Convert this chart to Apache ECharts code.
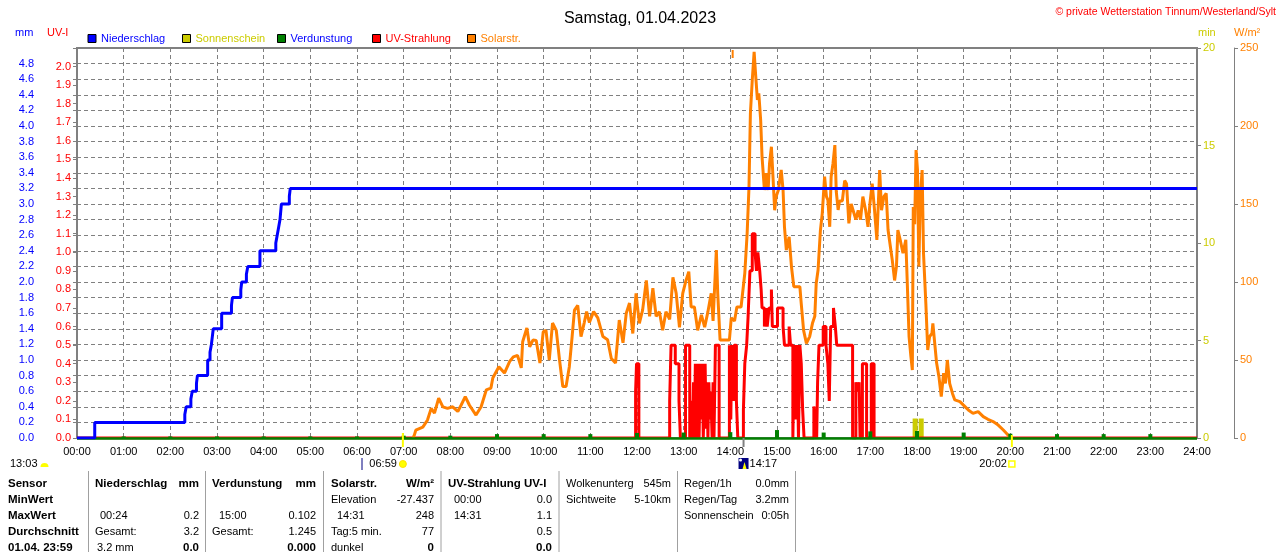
<!DOCTYPE html>
<html><head><meta charset="utf-8">
<script src="https://cdn.jsdelivr.net/npm/echarts/dist/echarts.min.js"></script>
<style>html,body{margin:0;padding:0;background:#fff;overflow:hidden}#c{width:1280px;height:552px}</style>
</head><body><div id="c"></div>
<script>
const FONT = '"Liberation Sans", Arial, sans-serif';

// ---- tick labels ----
const xTickLabels = ['00:00','01:00','02:00','03:00','04:00','05:00','06:00','07:00','08:00','09:00','10:00','11:00','12:00','13:00','14:00','15:00','16:00','17:00','18:00','19:00','20:00','21:00','22:00','23:00','24:00'];

// ---- Niederschlag (cumulative mm) ----
const rainTimes  = [0, 0.38, 2.31, 2.34, 2.44, 2.47, 2.56, 2.58, 2.80, 2.85, 2.88, 2.90, 2.92, 3.10, 3.31, 3.33, 3.51, 3.53, 3.63, 3.66, 3.92, 4.26, 4.29, 4.32, 4.35, 4.38, 4.55, 4.57, 24];
const rainValues = [0, 0.2, 0.3, 0.4, 0.5, 0.6, 0.7, 0.8, 1.0, 1.1, 1.2, 1.3, 1.4, 1.6, 1.7, 1.8, 1.9, 2.0, 2.1, 2.2, 2.4, 2.5, 2.6, 2.7, 2.8, 3.0, 3.1, 3.2, 3.2];

// ---- Sonnenschein (min) ----
const sunTimes  = [17.96, 18.09];
const sunValues = [1.0, 1.0];

// ---- Verdunstung (mm per hour) ----
const evapHours  = [0,1,2,3,4,5,6,7,8,9,10,11,12,13,14,15,16,17,18,19,20,21,22,23];
const evapValues = [0.0,0.02,0.02,0.02,0.02,0.02,0.02,0.03,0.03,0.05,0.05,0.05,0.065,0.07,0.075,0.102,0.07,0.085,0.09,0.07,0.055,0.05,0.05,0.05];

// ---- UV-Strahlung (UV-I), change points ----
const uvTimes = [0,11.97,11.99,12.04,12.70,12.73,12.82,12.90,12.93,
 13.04,13.13,13.15,13.17,13.19,13.21,13.23,13.25,13.28,13.30,13.31,13.33,13.36,13.38,13.40,13.42,13.44,13.46,13.48,13.50,13.52,13.54,13.56,13.58,13.61,13.63,13.65,13.68,13.76,
 13.98,14.01,14.03,14.07,14.08,14.13,14.16,
 14.28,14.31,14.35,14.38,14.42,14.47,14.53,14.56,14.59,14.63,14.66,14.68,14.73,14.77,14.79,14.83,14.88,14.90,15.01,15.13,15.16,15.26,15.29,15.34,15.37,15.40,15.43,15.46,15.49,15.52,15.55,15.58,
 15.79,15.82,15.85,15.87,15.90,15.99,16.05,16.09,16.12,16.15,16.21,16.25,16.28,16.62,16.69,16.73,16.76,16.78,16.83,16.92,17.02,17.08,24];
const uvValues = [0,0.25,0.4,0,0.2,0.5,0.4,0.2,0,
 0.5,0,0.1,0.2,0,0.3,0,0.4,0,0.2,0.4,0,0.4,0.1,0.4,0,0.2,0.4,0.05,0.3,0,0.3,0.1,0.25,0,0.3,0,0.5,0,
 0.5,0.1,0.5,0.2,0.5,0.2,0,
 0.15,0.4,0.5,0.65,0.9,1.1,1.0,0.9,1.0,0.9,0.8,0.7,0.6,0.7,0.6,0.7,0.8,0.6,0.7,0.6,0.5,0.6,0.5,0,0.5,0.1,0.5,0,0.5,0.4,0.15,0,
 0.17,0.1,0,0.3,0.5,0.6,0.5,0.4,0.2,0.6,0.7,0.6,0.5,0,0.3,0.25,0.3,0,0.4,0,0.4,0,0];

// ---- Solarstrahlung (W/m²) ----
const solarTimes = [7.20,7.23,7.26,7.41,7.51,7.59,7.66,7.75,7.84,7.94,8.05,8.16,8.23,8.32,8.41,8.55,8.66,8.77,8.87,8.91,9.04,9.16,9.27,9.35,9.44,9.52,9.55,9.64,9.70,9.77,9.84,9.92,9.99,10.05,10.12,10.19,10.27,10.34,10.41,10.48,10.55,10.61,10.66,10.73,10.80,10.87,10.92,10.98,11.07,11.16,11.27,11.37,11.45,11.54,11.62,11.70,11.77,11.84,11.91,11.98,12.05,12.12,12.20,12.27,12.34,12.41,12.48,12.55,12.62,12.70,12.77,12.84,12.91,12.98,13.05,13.11,13.16,13.23,13.30,13.38,13.45,13.52,13.59,13.63,13.70,13.73,13.78,13.88,13.98,14.02,14.09,14.14,14.23,14.31,14.36,14.40,14.43,14.47,14.51,14.54,14.58,14.61,14.65,14.68,14.73,14.77,14.81,14.84,14.88,14.91,14.95,14.98,15.03,15.09,15.13,15.16,15.20,15.26,15.31,15.36,15.41,15.49,15.52,15.57,15.63,15.70,15.76,15.81,15.84,15.88,15.93,15.97,16.02,16.06,16.09,16.13,16.16,16.20,16.24,16.27,16.31,16.34,16.40,16.45,16.49,16.54,16.59,16.63,16.69,16.74,16.79,16.84,16.90,16.95,16.99,17.04,17.09,17.14,17.20,17.24,17.29,17.34,17.38,17.43,17.47,17.52,17.56,17.59,17.64,17.70,17.76,17.79,17.83,17.87,17.90,17.92,17.95,17.98,18.01,18.04,18.07,18.11,18.14,18.19,18.23,18.27,18.32,18.34,18.38,18.42,18.47,18.52,18.57,18.61,18.65,18.70,18.76,18.81,18.92,18.99,19.10,19.20,19.31,19.42,19.52,19.63,19.74,19.85,19.95,20.00];
const solarValues = [0,2,5,7,11.5,19,16,25.6,20,19,20,17,21,26.5,21,14.7,20,30.8,32,38.5,45.7,41.6,49,52,53,45,61.7,70.5,58.5,62.8,62.5,48,68,69,50,73.7,69,50,33,33,45.7,65,82,85,65,74,81,74,81,77,65,63,51,48,75.6,61,80,86.5,67,92.7,73.5,82,101,78,96,78,81,69,81,76,103,92.7,71,92.7,101,106.6,84,84,69,79,71,81,92.7,75,120.5,92.7,62.8,62.8,62.8,77,75,84,84,105.6,131,161,208,229.5,247.6,233.8,216.7,221,203.8,180,159,169.7,159,176,186.7,169.7,146,154.7,159,171.8,159,135.4,120.5,129,109.8,97,97,97,86,69,60.7,65,73.5,78,99,107.7,133,144,167.5,154.7,152.6,135.4,167.5,176,187.8,158,146.2,152,152,165,163,137.6,150,146,140,146,140,154.7,146,135.4,150,163,146,127,171.8,146,154.7,156.8,133.3,122.6,114,101,110,133.3,127,118.4,127,101,65,52,43.6,148,137,184.6,172,110,154.7,171.8,118,86,56.4,65,67,73.5,60.7,48,39.3,26.5,41.6,35,50,35,28.6,24.4,23.3,21.2,18,15.8,16.9,13.7,12,10.5,8.3,5.1,1.9,0];

// ---- events (hours) ----
const sunriseHour = 6.983, sunsetHour = 20.033, markHour = 14.283, topMarkHour = 14.05;

// ---- legend ----
const legendNames = ['Niederschlag','Sonnenschein','Verdunstung','UV-Strahlung','Solarstr.'];
const legendTextColors = ['#0000ff','#cccc00','#0000ff','#ff0000','#ff8000'];
const legendLefts = [87.5, 182, 277, 372, 467];

const GRID = '#808080';
const dash = [4,3];

const chart = echarts.init(document.getElementById('c'), null, {renderer:'canvas'});

const baseY = {
  min: 0, axisTick: {show:true, inside:false, length:4, lineStyle:{color:GRID}},
  splitLine: {show:false}
};

chart.setOption({
  animation: false,
  backgroundColor: '#fff',
  title: {text:'Samstag, 01.04.2023', left:'center', top:6,
    textStyle:{fontSize:16, fontWeight:'normal', color:'#000', fontFamily:FONT}},
  legend: legendNames.map((n,i)=>({
    left: legendLefts[i], top: 33, padding: 0, orient:'horizontal', icon:'rect',
    itemWidth:8, itemHeight:8, selectedMode:false,
    itemStyle:{borderColor:'#000', borderWidth:1},
    textStyle:{fontSize:11, fontFamily:FONT, color:legendTextColors[i]},
    data:[n]
  })),
  grid: {left:77, right:83, top:48, bottom:114, show:true, borderColor:GRID, borderWidth:2,
    backgroundColor:'rgba(0,0,0,0)', containLabel:false, outerBoundsMode:'none'},
  xAxis: [
    {type:'value', min:0, max:24, interval:1,
     axisLine:{show:false}, axisTick:{show:false},
     axisLabel:{color:'#000', fontSize:11, fontFamily:FONT, margin:8, formatter:v=>xTickLabels[Math.round(v)]},
     splitLine:{show:true, lineStyle:{color:GRID, type:dash, width:1}}},
    {type:'value', min:0, max:24, show:false}
  ],
  yAxis: [
    Object.assign({}, baseY, {type:'value', position:'left', offset:37, max:5, interval:0.2,
      axisLine:{show:true, lineStyle:{color:GRID, width:1}},
      axisLabel:{color:'#0000ff', fontSize:11, fontFamily:FONT, margin:6, formatter:v=>v>4.9?'':v.toFixed(1)},
      splitLine:{show:true, lineStyle:{color:GRID, type:dash, width:1}}}),
    Object.assign({}, baseY, {type:'value', position:'left', offset:0, max:2.1, interval:0.1,
      axisLine:{show:false},
      axisLabel:{color:'#ff0000', fontSize:11, fontFamily:FONT, margin:6, formatter:v=>v>2.05?'':v.toFixed(1)}}),
    Object.assign({}, baseY, {type:'value', position:'right', offset:0, max:20, interval:5,
      axisLine:{show:false},
      axisLabel:{color:'#cccc00', fontSize:11, fontFamily:FONT, margin:6}}),
    Object.assign({}, baseY, {type:'value', position:'right', offset:37, max:250, interval:50,
      axisLine:{show:true, lineStyle:{color:GRID, width:1}},
      axisLabel:{color:'#ff8000', fontSize:11, fontFamily:FONT, margin:6}})
  ],
  series: [
    {name:'Niederschlag', type:'line', xAxisIndex:0, yAxisIndex:0, step:'end', symbol:'none', showSymbol:false,
     z:6, color:'#0000ff', lineStyle:{color:'#0000ff', width:3}, itemStyle:{color:'#0000ff'},
     data: rainTimes.map((t,i)=>[t, rainValues[i]])},
    {name:'Sonnenschein', type:'bar', xAxisIndex:1, yAxisIndex:2, barWidth:5, z:2,
     color:'#cccc00', itemStyle:{color:'#cccc00'},
     data: sunTimes.map((t,i)=>[t, sunValues[i]])},
    {name:'Verdunstung', type:'bar', xAxisIndex:0, yAxisIndex:0, barWidth:4, z:5,
     color:'#008000', itemStyle:{color:'#008000'},
     data: evapHours.map((t,i)=>[t, evapValues[i]]),
     markLine:{symbol:'none', silent:true, label:{show:false}, animation:false,
       lineStyle:{color:'#008000', width:2.5, type:'solid'}, data:[{yAxis:0}]}},
    {name:'UV-Strahlung', type:'line', xAxisIndex:0, yAxisIndex:1, step:'end', symbol:'none', showSymbol:false,
     z:3, color:'#ff0000', lineStyle:{color:'#ff0000', width:3}, itemStyle:{color:'#ff0000'},
     data: uvTimes.map((t,i)=>[t, uvValues[i]])},
    {name:'Solarstr.', type:'line', xAxisIndex:0, yAxisIndex:3, symbol:'none', showSymbol:false,
     z:4, color:'#ff8000', lineStyle:{color:'#ff8000', width:3}, itemStyle:{color:'#ff8000'},
     data: solarTimes.map((t,i)=>[t, solarValues[i]])}
  ]
});

// ---- texts & decorations ----
const px = h => chart.convertToPixel({xAxisIndex:0}, h);
const g = [];
function txt(x, y, s, color, opts) {
  opts = opts || {};
  g.push({type:'text', x:x, y:y, silent:true, z:100,
    style:{text:s, fill:color||'#000', align:opts.align||'left', verticalAlign:'middle',
      font:(opts.bold?'bold ':'')+(opts.size||11)+'px '+FONT}});
}
function line(x1,y1,x2,y2,color,w){
  g.push({type:'line', silent:true, z:100, shape:{x1:x1,y1:y1,x2:x2,y2:y2}, style:{stroke:color, lineWidth:w||1}});
}

// corner texts
txt(1276, 12, '© private Wetterstation Tinnum/Westerland/Sylt', '#ff0000', {align:'right', size:10.5});
txt(15, 33, 'mm', '#0000ff');
txt(47, 33, 'UV-I', '#ff0000');
txt(1198, 33, 'min', '#cccc00');
txt(1234, 33, 'W/m²', '#ff8000');

// event ticks
const xr = px(sunriseHour), xs = px(sunsetHour), xm = px(markHour), xt = px(topMarkHour);
line(xr, 433, xr, 447, '#ffff00', 2);
line(xs, 435, xs, 447, '#ffff00', 2);
line(xm, 438, xm, 447, GRID, 2);
line(xt, 50, xt, 58, '#ff8000', 2);

// annotation row
txt(10, 464, '13:03', '#000');
g.push({type:'sector', silent:true, z:100, shape:{cx:44.5, cy:467, r:4, startAngle:Math.PI, endAngle:2*Math.PI}, style:{fill:'#ffff00'}});
line(362, 458, 362, 470, '#000080', 1);
txt(xr-6, 464, '06:59', '#000', {align:'right'});
g.push({type:'circle', silent:true, z:100, shape:{cx:xr, cy:464, r:3.5}, style:{fill:'#ffff00', stroke:'#ffe000', lineWidth:1}});
g.push({type:'rect', silent:true, z:100, shape:{x:xm-5, y:458, width:10, height:11}, style:{fill:'#000080'}});
g.push({type:'polygon', silent:true, z:100, shape:{points:[[xm-1,469],[xm+1,462],[xm+3,469]]}, style:{fill:'#ffff00'}});
g.push({type:'circle', silent:true, z:100, shape:{cx:xm-3, cy:460, r:1.5}, style:{fill:'#ffffff'}});
txt(xm+6, 464, '14:17', '#000');
txt(xs-5, 464, '20:02', '#000', {align:'right'});
g.push({type:'rect', silent:true, z:100, shape:{x:xs-3, y:461, width:6, height:6}, style:{fill:'none', stroke:'#ffff00', lineWidth:1.5}});

// table separators
[88.5, 205.5, 323.5, 441, 559, 677.5, 795.5].forEach(x=>line(x, 471, x, 552, '#a0a0a0', 1));

// table texts
const R = [484, 500, 516, 532, 548];
const B = {bold:true, size:11.5};
const BR = {bold:true, size:11.5, align:'right'};
const RT = {align:'right'};
txt(8, R[0], 'Sensor', '#000', B);
txt(8, R[1], 'MinWert', '#000', B);
txt(8, R[2], 'MaxWert', '#000', B);
txt(8, R[3], 'Durchschnitt', '#000', B);
txt(8, R[4], '01.04. 23:59', '#000', B);

txt(95, R[0], 'Niederschlag', '#000', B);
txt(199, R[0], 'mm', '#000', BR);
txt(100, R[2], '00:24'); txt(199, R[2], '0.2', '#000', RT);
txt(95, R[3], 'Gesamt:'); txt(199, R[3], '3.2', '#000', RT);
txt(97, R[4], '3.2 mm'); txt(199, R[4], '0.0', '#000', BR);

txt(212, R[0], 'Verdunstung', '#000', B);
txt(316, R[0], 'mm', '#000', BR);
txt(219, R[2], '15:00'); txt(316, R[2], '0.102', '#000', RT);
txt(212, R[3], 'Gesamt:'); txt(316, R[3], '1.245', '#000', RT);
txt(316, R[4], '0.000', '#000', BR);

txt(331, R[0], 'Solarstr.', '#000', B);
txt(434, R[0], 'W/m²', '#000', BR);
txt(331, R[1], 'Elevation'); txt(434, R[1], '-27.437', '#000', RT);
txt(337, R[2], '14:31'); txt(434, R[2], '248', '#000', RT);
txt(331, R[3], 'Tag:5 min.'); txt(434, R[3], '77', '#000', RT);
txt(331, R[4], 'dunkel'); txt(434, R[4], '0', '#000', BR);

txt(448, R[0], 'UV-Strahlung UV-I', '#000', B);
txt(454, R[1], '00:00'); txt(552, R[1], '0.0', '#000', RT);
txt(454, R[2], '14:31'); txt(552, R[2], '1.1', '#000', RT);
txt(552, R[3], '0.5', '#000', RT);
txt(552, R[4], '0.0', '#000', BR);

txt(566, R[0], 'Wolkenunterg'); txt(671, R[0], '545m', '#000', RT);
txt(566, R[1], 'Sichtweite'); txt(671, R[1], '5-10km', '#000', RT);

txt(684, R[0], 'Regen/1h'); txt(789, R[0], '0.0mm', '#000', RT);
txt(684, R[1], 'Regen/Tag'); txt(789, R[1], '3.2mm', '#000', RT);
txt(684, R[2], 'Sonnenschein'); txt(789, R[2], '0:05h', '#000', RT);

chart.setOption({graphic: g});
</script></body></html>
